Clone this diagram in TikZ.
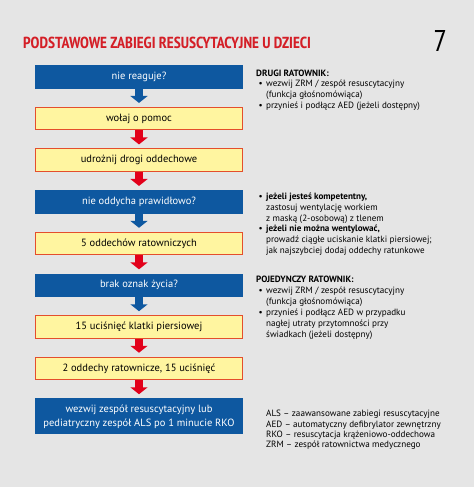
\documentclass[tikz,border=0pt]{standalone}
\usepackage{fontspec}
\setmainfont{PT Sans}
\newfontfamily\narrowfont{PT Sans Narrow}
\usetikzlibrary{arrows.meta, positioning}
\definecolor{RescBlue}{RGB}{14, 88, 160}
\definecolor{RescRed}{RGB}{226, 0, 26}
\definecolor{RescYellow}{RGB}{255, 245, 160}
\definecolor{RescBorder}{RGB}{228, 78, 44}
\definecolor{RescTitle}{RGB}{212, 30, 38}
\definecolor{PageBg}{RGB}{229, 229, 229}
\newcommand{\itm}{\hspace*{2.5pt}\makebox[7.5pt][l]{\textbullet}}
\newcommand{\cnt}{\hspace*{10pt}}

\begin{document}
\begin{tikzpicture}[
    x=1pt, y=-1pt,
    node distance=18pt,
    qbox/.style={fill=RescBlue, text=white, rectangle, align=center, minimum width=208pt, minimum height=23.5pt, inner sep=2pt, font=\fontsize{10.5}{14}\selectfont},
    abox/.style={draw=RescBorder, line width=1pt, fill=RescYellow, rectangle, align=center, minimum width=207pt, minimum height=22.5pt, inner sep=2pt, font=\fontsize{10.5}{14}\selectfont},
    barrow/.style={-{Triangle[length=7pt 0, width=17pt 0]}, line width=8pt, draw=#1, shorten >=4pt},
    note/.style={anchor=north west, align=left, inner sep=0pt, font=\fontsize{9.1}{10.7}\selectfont}
]
\fill[PageBg] (0,0) rectangle (474,487);
\useasboundingbox (0,0) rectangle (474,487);

% title
\node (title) [anchor=west, inner sep=0pt, text=RescTitle, font=\narrowfont\bfseries\fontsize{16}{18}\selectfont] at (23,43) {PODSTAWOWE ZABIEGI RESUSCYTACYJNE U DZIECI};
\node (num) [inner sep=0pt, font=\narrowfont\fontsize{30}{30}\selectfont] at (440,41) {7};

% flow
\node (reaguje) [qbox] at (139,77) {nie reaguje?};
\node (wolaj) [abox, below=of reaguje] {wołaj o pomoc};
\node (drogi) [abox, below=of wolaj] {udrożnij drogi oddechowe};
\node (oddycha) [qbox, below=of drogi] {nie oddycha prawidłowo?};
\node (piec) [abox, below=of oddycha] {5 oddechów ratowniczych};
\node (zycie) [qbox, below=of piec] {brak oznak życia?};
\node (ucisk) [abox, below=of zycie] {15 uciśnięć klatki piersiowej};
\node (cykl) [abox, below=of ucisk] {2 oddechy ratownicze, 15 uciśnięć};
\node (wezwij) [qbox, below=of cykl, minimum height=36pt] {wezwij zespół resuscytacyjny lub\\pediatryczny zespół ALS po 1 minucie RKO};

\draw [barrow=RescBlue] (reaguje) -- (wolaj);
\draw [barrow=RescRed] (wolaj) -- (drogi);
\draw [barrow=RescRed] (drogi) -- (oddycha);
\draw [barrow=RescBlue] (oddycha) -- (piec);
\draw [barrow=RescRed] (piec) -- (zycie);
\draw [barrow=RescBlue] (zycie) -- (ucisk);
\draw [barrow=RescRed] (ucisk) -- (cykl);
\draw [barrow=RescRed] (cykl) -- (wezwij);

% notes
\node (drugi) [note] at (256,69.5) {\textbf{DRUGI RATOWNIK:}\\
  \itm wezwij ZRM / zespół resuscytacyjny\\
  \cnt (funkcja głośnomówiąca)\\
  \itm przynieś i podłącz AED (jeżeli dostępny)};
\node (kompet) [note] at (256,193) {\itm\textbf{jeżeli jesteś kompetentny,}\\
  \cnt zastosuj wentylację workiem\\
  \cnt z maską (2-osobową) z tlenem\\
  \itm\textbf{jeżeli nie można wentylować,}\\
  \cnt prowadź ciągłe uciskanie klatki piersiowej;\\
  \cnt jak najszybciej dodaj oddechy ratunkowe};
\node (pojed) [note] at (256,276) {\textbf{POJEDYNCZY RATOWNIK:}\\
  \itm wezwij ZRM / zespół resuscytacyjny\\
  \cnt (funkcja głośnomówiąca)\\[1pt]
  \itm przynieś i podłącz AED w przypadku\\
  \cnt nagłej utraty przytomności przy\\
  \cnt świadkach (jeżeli dostępny)};
\node (skroty) [note, font=\fontsize{9.1}{10.4}\selectfont] at (266,410) {ALS -- zaawansowane zabiegi resuscytacyjne\\
  AED -- automatyczny defibrylator zewnętrzny\\
  RKO -- resuscytacja krążeniowo-oddechowa\\
  ZRM -- zespół ratownictwa medycznego};
\end{tikzpicture}
\end{document}
